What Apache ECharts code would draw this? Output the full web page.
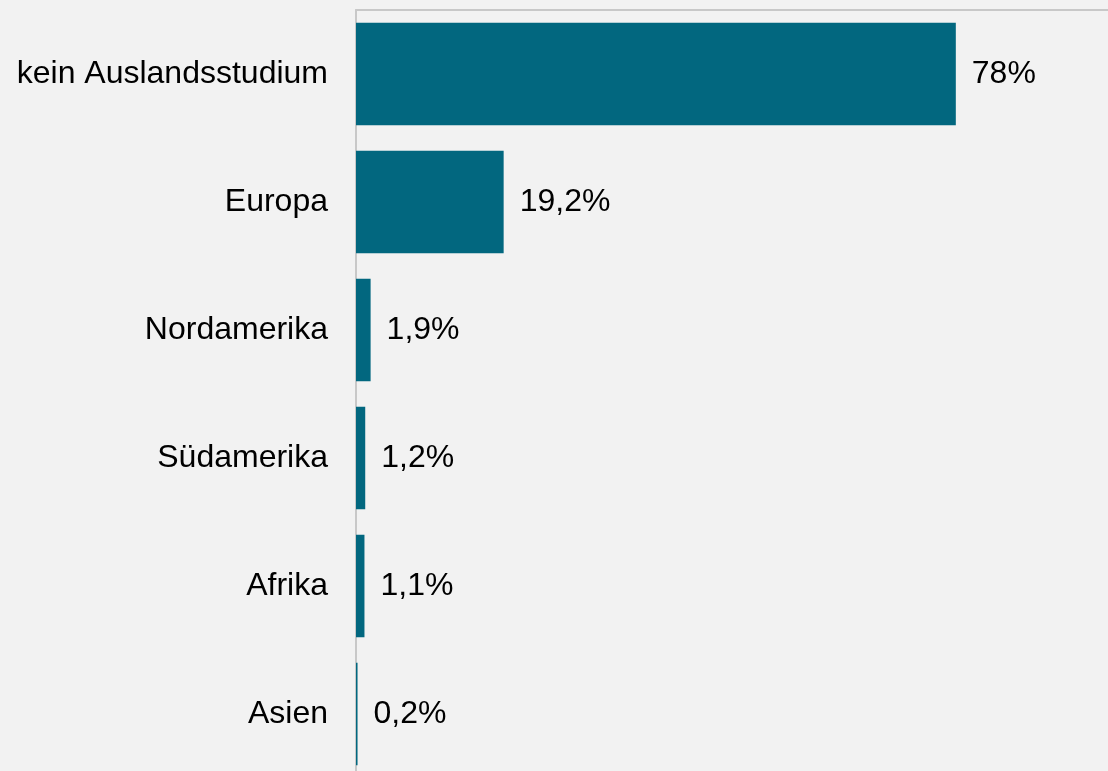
<!DOCTYPE html>
<html>
<head>
<meta charset="utf-8">
<script src="https://cdn.jsdelivr.net/npm/echarts@6/dist/echarts.min.js"></script>
<style>
  html, body { margin: 0; padding: 0; background: #f2f2f2; overflow: hidden; }
  #chart { width: 1130px; height: 790px; }
</style>
</head>
<body>
<div id="chart"></div>
<script>
"use strict";

// Kategorien (von oben nach unten)
const regionen = ['kein Auslandsstudium', 'Europa', 'Nordamerika', 'Südamerika', 'Afrika', 'Asien'];

// Anteile in Prozent
const anteile = [78, 19.2, 1.9, 1.2, 1.1, 0.2];

const formatProzent = (v) => String(v).replace('.', ',') + '%';

var myChart = echarts.init(document.getElementById('chart'));

var option = {
    backgroundColor: '#f2f2f2',
    textStyle: { fontFamily: 'Liberation Sans, Arial, sans-serif' },
    grid: {
        left: 356,
        top: 10,
        width: 769,
        height: 768,
        containLabel: false
    },
    xAxis: {
        type: 'value',
        position: 'top',
        min: 0,
        max: 100,
        axisLine: { show: true, lineStyle: { color: '#c8c8c8', width: 2 } },
        axisTick: { show: false },
        axisLabel: { show: false },
        splitLine: { show: false }
    },
    yAxis: {
        type: 'category',
        inverse: true,
        data: regionen,
        axisLine: { show: true, lineStyle: { color: '#c8c8c8', width: 2 } },
        axisTick: { show: false },
        axisLabel: {
            color: '#000',
            fontSize: 32,
            margin: 28
        }
    },
    series: [{
        type: 'bar',
        data: anteile,
        barCategoryGap: '20%',
        itemStyle: { color: '#02677f' },
        label: {
            show: true,
            position: 'right',
            distance: 16,
            color: '#000',
            fontSize: 32,
            formatter: (p) => formatProzent(p.value)
        }
    }]
};

myChart.setOption(option);
</script>
</body>
</html>
